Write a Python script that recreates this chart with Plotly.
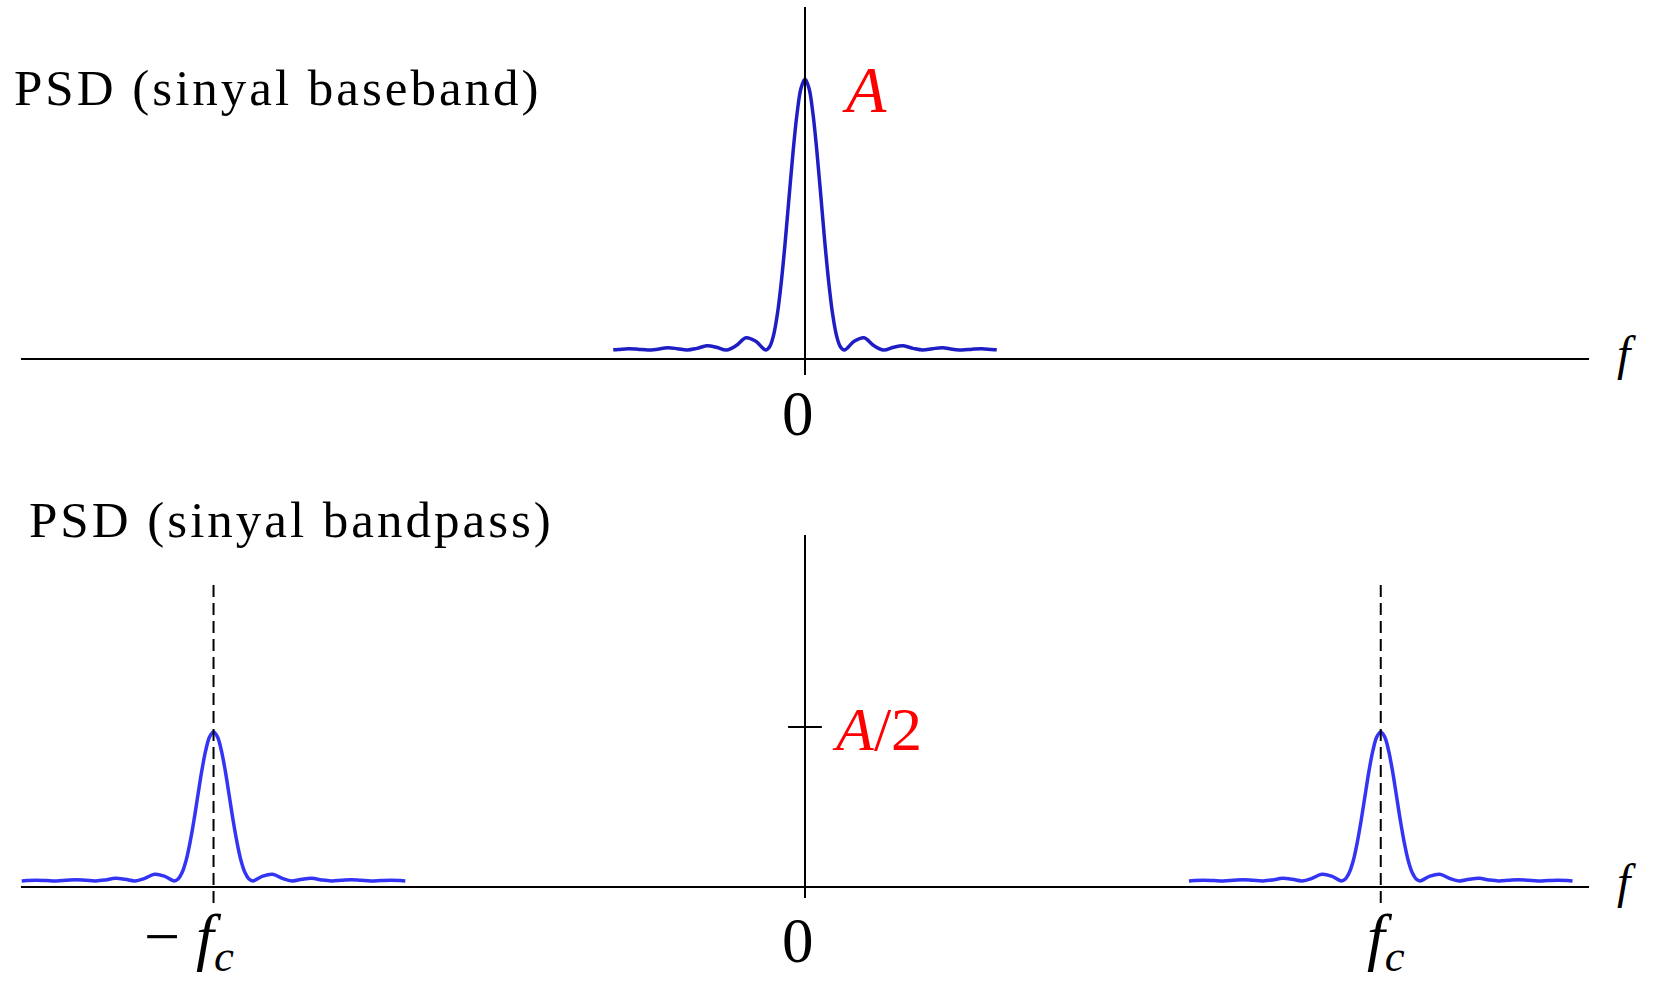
import plotly.graph_objects as go

W, H = 1653, 984

# Frequency offsets from the lobe centre (units of the first-null spacing), right half only
lobe_offsets = [0.0, 0.1, 0.2, 0.3, 0.4, 0.5, 0.6, 0.7, 0.8, 0.9, 1.0,
                1.25, 1.5, 1.75, 2.0, 2.25, 2.5, 2.75, 3.0, 3.25, 3.5,
                3.75, 4.0, 4.25, 4.5, 4.75, 4.88]

# Baseband PSD level (peak = A = 1)
psd_baseband = [1.000, 0.968, 0.879, 0.745, 0.587, 0.424, 0.279, 0.163, 0.085, 0.044, 0.032,
                0.063, 0.076, 0.048, 0.032, 0.042, 0.047, 0.038, 0.032, 0.037, 0.040,
                0.035, 0.032, 0.035, 0.037, 0.034, 0.033]

# Bandpass PSD level (peak close to A/2)
psd_bandpass = [0.484, 0.469, 0.426, 0.362, 0.285, 0.207, 0.138, 0.082, 0.045, 0.025, 0.019,
                0.034, 0.040, 0.027, 0.019, 0.024, 0.027, 0.022, 0.019, 0.021, 0.023,
                0.021, 0.019, 0.020, 0.021, 0.020, 0.019]

# Carrier positions on the frequency axis
carrier_neg = -15.05
carrier_pos = 14.65

axis_half_len = 19.95
half_level = 0.5


def mirrored(offsets, values, centre=0.0):
    xs = [centre - d for d in reversed(offsets[1:])] + [centre + d for d in offsets]
    ys = list(reversed(values[1:])) + list(values)
    return xs, ys


# pixel scale helpers for the layout ranges
px_per_x = 39.3
x0_px = 805
x_range = [-x0_px / px_per_x, (W - x0_px) / px_per_x]
top_axis_px, top_unit_px = 359, 280
bot_axis_px, bot_unit_px = 887, 320
y_range = [(top_axis_px - H) / top_unit_px, top_axis_px / top_unit_px]
y2_range = [(bot_axis_px - H) / bot_unit_px, bot_axis_px / bot_unit_px]

fig = go.Figure()

bx, by = mirrored(lobe_offsets, psd_baseband)
fig.add_trace(go.Scatter(x=bx, y=by, mode="lines", line=dict(color="#1e1ec4", width=3.5, shape="spline"),
                         xaxis="x", yaxis="y", hoverinfo="skip", showlegend=False))

for c in (carrier_neg, carrier_pos):
    px, py = mirrored(lobe_offsets, psd_bandpass, c)
    fig.add_trace(go.Scatter(x=px, y=py, mode="lines", line=dict(color="#3434f4", width=3.5, shape="spline"),
                             xaxis="x", yaxis="y2", hoverinfo="skip", showlegend=False))

shapes = []
ax_line = dict(color="black", width=2)
# top panel axes
shapes.append(dict(type="line", xref="x", yref="y", x0=-axis_half_len, x1=axis_half_len, y0=0, y1=0, line=ax_line))
shapes.append(dict(type="line", xref="x", yref="y", x0=0, x1=0, y0=-0.057, y1=1.257, line=ax_line))
# bottom panel axes
shapes.append(dict(type="line", xref="x", yref="y2", x0=-axis_half_len, x1=axis_half_len, y0=0, y1=0, line=ax_line))
shapes.append(dict(type="line", xref="x", yref="y2", x0=0, x1=0, y0=-0.034, y1=1.1, line=ax_line))
shapes.append(dict(type="line", xref="x", yref="y2", x0=-0.43, x1=0.43, y0=half_level, y1=half_level, line=ax_line))
# carrier markers
for c in (carrier_neg, carrier_pos):
    shapes.append(dict(type="line", xref="x", yref="y2", x0=c, x1=c, y0=-0.05, y1=0.96,
                       line=dict(color="black", width=2, dash="12px,6px")))

serif = "Liberation Serif, Times New Roman, Times, serif"


def ann(text, x, y, size, color="black", xanchor="left", yanchor="middle"):
    return dict(text=text, x=x / W, y=1 - y / H, xref="paper", yref="paper", showarrow=False,
                xanchor=xanchor, yanchor=yanchor, font=dict(family=serif, size=size, color=color))


spaced = "<span style='letter-spacing:3px'>{}</span>"
annotations = [
    ann(spaced.format("PSD (sinyal baseband)"), 12, 88, 51),
    ann(spaced.format("PSD (sinyal bandpass)"), 27, 520, 51),
    ann("<i>A</i>", 840, 89, 66, color="#ff0000"),
    ann("<i>A</i>/2", 830, 729, 62, color="#ff0000"),
    ann("0", 798, 414, 63, xanchor="center"),
    ann("0", 798, 941, 63, xanchor="center"),
    ann("− <i>f</i><sub><i>c</i></sub>", 189, 941, 64, xanchor="center"),
    ann("<i>f</i><sub><i>c</i></sub>", 1386, 941, 64, xanchor="center"),
    ann("<i>f</i>", 1626, 353, 48, xanchor="center"),
    ann("<i>f</i>", 1626, 881, 48, xanchor="center"),
]

fig.update_layout(
    width=W, height=H,
    margin=dict(l=0, r=0, t=0, b=0),
    paper_bgcolor="white", plot_bgcolor="white",
    xaxis=dict(range=x_range, visible=False, fixedrange=True),
    yaxis=dict(range=y_range, visible=False, fixedrange=True),
    yaxis2=dict(range=y2_range, visible=False, overlaying="y", fixedrange=True),
    shapes=shapes,
    annotations=annotations,
    showlegend=False,
)

fig.write_html("out.html")
